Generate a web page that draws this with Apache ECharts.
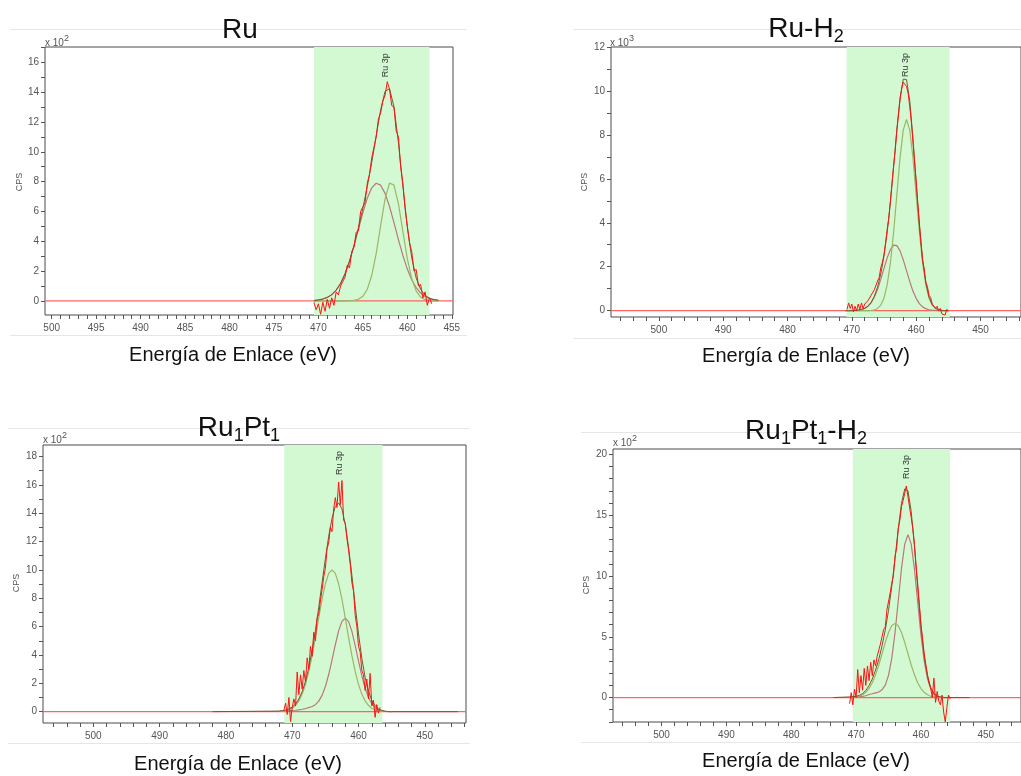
<!DOCTYPE html>
<html>
<head>
<meta charset="utf-8">
<script src="https://cdn.jsdelivr.net/npm/echarts@6/dist/echarts.min.js"></script>
<style>
  html, body { margin: 0; padding: 0; background: #fff; }
  #chart { width: 1021px; height: 776px; }
</style>
</head>
<body>
<div id="chart"></div>
<script>
// ---- spectra (binding energy in eV, counts in the panel's x10^n unit) ----
// raw spectra are sampled every rawStep eV starting at *RawStart, going down
const rawStep = 0.25;
const fitStep = 0.5;

// Ru  (x10^2)
const ruRawStart = 470.5;
const ruRaw = [-0.1,-0.6,-0.2,-0.9, -0.1,-0.7,0.1,-0.5, 0.2,-0.3,0.6,0.4, 1.0,1.3,1.6,2.4,
  2.2,3.3,3.6,4.6, 4.7,6.0,6.3,6.6, 7.9,8.5,9.6,10.3, 11.0,12.2,12.6,13.4, 13.8,14.7,14.2,13.1,
  13.0,11.4,11.0,9.0, 7.9,6.2,5.0,3.9, 3.3,2.0,2.1,1.0, 1.1,0.2,0.6,-0.3, 0.2,-0.2];
const ruFitStart = 470.5;
const ruCompA = [0.03,0.06,0.12,0.23,0.41,0.72,1.17,1.82,2.66,3.67,4.79,5.91,6.89,7.58,7.89,
  7.76,7.21,6.33,5.25,4.11,3.05,2.13,1.41,0.88,0.52,0.29,0.15,0.08,0.04];
const ruCompB = [0,0,0,0,0,0,0,0,0.01,0.03,0.10,0.30,0.78,1.70,3.17,5.05,6.84,7.90,7.77,6.52,
  4.66,2.84,1.48,0.65,0.25,0.08,0.02,0,0];
const ruEnv = [0.03,0.06,0.12,0.23,0.41,0.72,1.17,1.82,2.67,3.70,4.89,6.21,7.67,9.28,11.06,
  12.81,14.05,14.23,13.02,10.63,7.71,4.97,2.89,1.53,0.77,0.37,0.17,0.08,0.04];
const ruEnvEnds = [470.5, 456.5];

// Ru-H2  (x10^3)
const ruh2RawStart = 470.75;
const ruh2Raw = [0.05,0.35,0.1,0.3, -0.05,0.2,0.0,0.3, 0.05,0.35,0.1,0.3, 0.25,0.45,0.5,0.7,
  0.65,0.95,1.0,1.35, 1.5,1.95,2.2,2.55, 3.1,3.7,4.2,5.0, 5.8,6.6,7.3,8.2, 8.9,9.6,10.1,10.4,
  10.3,10.2,9.9,9.3, 8.6,7.7,6.8,5.9, 4.9,4.0,3.1,2.3, 1.9,1.3,1.1,0.7, 0.6,0.3,0.35,0.1,
  0.2,0.0,0.1,-0.15, -0.1,-0.2,0.05,0.0];
const ruh2FitStart = 471;
const ruh2CompA = [0,0,0,0.01,0.02,0.05,0.10,0.20,0.36,0.62,0.97,1.42,1.92,2.40,2.78,2.98,2.96,
  2.72,2.31,1.82,1.33,0.89,0.56,0.32,0.17,0.09,0.04,0.02,0.01,0,0,0,0];
const ruh2CompB = [0,0,0,0,0,0,0,0,0.01,0.03,0.10,0.25,0.57,1.18,2.17,3.58,5.28,6.97,8.23,8.70,
  8.23,6.97,5.28,3.58,2.17,1.18,0.57,0.25,0.10,0.03,0.01,0,0];
const ruh2Env = [0,0,0,0.01,0.02,0.05,0.10,0.20,0.37,0.65,1.07,1.67,2.49,3.58,4.95,6.56,8.24,
  9.69,10.54,10.52,9.56,7.86,5.84,3.90,2.34,1.27,0.61,0.27,0.11,0.03,0.01,0,0];
const ruh2EnvEnds = [471, 455];

// Ru1Pt1  (x10^2)
const ruptRawStart = 471.25;
const ruptRaw = [0.1,0.6,-0.2,1.0, -0.7,0.3,0.9,0.4, 2.8,1.2,2.6,1.6, 2.9,2.1,3.8,3.0,
  4.6,3.9,5.6,5.0, 6.6,6.9,7.8,8.6, 9.5,10.1,11.5,11.9, 13.0,12.7,14.3,15.1, 14.4,16.2,14.6,16.3,
  13.5,13.3,12.2,11.4, 10.4,9.1,8.5,6.8, 6.0,4.6,4.2,2.9, 2.6,1.5,2.3,0.9, 2.7,0.4,0.8,-0.4,
  0.5,-0.1,0.3];
const ruptFitStart = 472;
const ruptCompA = [0.03,0.04,0.05,0.07,0.08,0.10,0.13,0.17,0.22,0.28,0.36,0.49,0.74,1.15,1.77,
  2.62,3.64,4.72,5.70,6.37,6.60,6.35,5.66,4.66,3.56,2.52,1.65,1.00,0.56,0.29,0.14,0.06,0.02,0.01,0];
const ruptCompB = [0.01,0.03,0.06,0.13,0.24,0.44,0.76,1.24,1.92,2.82,3.95,5.24,6.62,7.93,9.02,
  9.75,10.0,9.75,9.02,7.93,6.62,5.24,3.95,2.82,1.92,1.24,0.76,0.44,0.24,0.13,0.06,0.03,0.01,0,0];
const ruptEnv = [0.04,0.07,0.11,0.20,0.32,0.54,0.89,1.41,2.14,3.10,4.31,5.73,7.36,9.08,10.79,
  12.37,13.64,14.47,14.72,14.30,13.22,11.59,9.61,7.48,5.48,3.76,2.41,1.44,0.80,0.42,0.20,0.09,
  0.03,0.01,0];
const ruptEnvEnds = [482, 445];

// Ru1Pt1-H2  (x10^2)
const rupth2RawStart = 471;
const rupth2Raw = [-0.5,0.4,-0.6,0.7, 0.0,2.3,0.4,1.8, 0.6,2.4,1.0,2.6, 1.4,2.9,1.8,3.1,
  2.6,3.4,3.4,4.4, 4.3,5.6,5.8,7.2, 7.1,8.6,9.4,10.0, 11.6,12.3,13.9,14.6, 15.7,16.2,16.8,17.4,
  16.5,16.6,14.8,13.9, 12.6,10.8,9.3,7.7, 6.0,4.8,3.6,2.7, 1.9,1.2,0.8,0.0, 1.6,-0.4,0.5,-0.3,
  -0.6,0.2,-1.2,-2.0, -0.8,0.2,-0.1];
const rupth2FitStart = 471;
const rupth2CompA = [0.04,0.05,0.05,0.07,0.10,0.15,0.25,0.31,0.39,0.46,0.65,1.02,1.82,3.22,5.32,
  7.94,10.61,12.62,13.40,12.62,10.56,7.84,5.17,3.02,1.57,0.72,0.30,0.11,0.04,0.01,0];
const rupth2CompB = [0.01,0.02,0.05,0.11,0.23,0.43,0.74,1.22,1.87,2.68,3.60,4.54,5.35,5.90,6.10,
  5.90,5.35,4.54,3.60,2.68,1.87,1.22,0.74,0.43,0.23,0.11,0.05,0.02,0.01,0,0];
const rupth2Env = [0.05,0.07,0.10,0.18,0.33,0.58,0.99,1.53,2.26,3.14,4.25,5.56,7.17,9.12,11.42,
  13.84,15.96,17.16,17.00,15.30,12.43,9.06,5.91,3.45,1.80,0.83,0.35,0.13,0.05,0.01,0];
const rupth2EnvEnds = [473.5, 452.5];

// ---- labels, regions, axis ticks ----
const panelTitles = ['{m|Ru}', '{m|Ru-H}{s|2}', '{m|Ru}{s|1}{m|Pt}{s|1}', '{m|Ru}{s|1}{m|Pt}{s|1}{m|-H}{s|2}'];
const panelExp = ['2', '3', '2', '2'];
const regionFrom = [470.5, 470.8, 471.2, 470.5];
const regionTo = [457.5, 454.8, 456.4, 455.5];
const peakLabelX = [462.4, 461.7, 462.9, 462.15];
const peakLabelY = [15.8, 11.18, 17.54, 18.96];
const xLabelsRu = [455, 460, 465, 470, 475, 480, 485, 490, 495, 500];
const xLabelsWide = [450, 460, 470, 480, 490, 500];
const yLabels = [
  [0, 2, 4, 6, 8, 10, 12, 14, 16],
  [0, 2, 4, 6, 8, 10, 12],
  [0, 2, 4, 6, 8, 10, 12, 14, 16, 18],
  [0, 5, 10, 15, 20]
];

const FONT = '"Liberation Sans", Arial, sans-serif';
const C_RED = '#ff1212';
const C_BASE = '#ff6464';
const C_ENV = '#6f5b2e';
const C_BROWN = '#b9787a';
const C_OLIVE = '#9db567';
const C_BAND = '#d3f9d3';

// layout of the four plot frames
const grids = [
  { left: 45, top: 47, width: 408, height: 268 },
  { left: 611, top: 47, width: 411, height: 270 },
  { left: 43, top: 445, width: 423, height: 278 },
  { left: 613, top: 449, width: 409, height: 273 }
];
const xMin = [454.86, 443.7, 443.79, 444.57];
const xMax = [500.75, 507.44, 507.59, 507.49];
const yMin = [-0.95, -0.29, -0.80, -2.01];
const yMax = [17.03, 12.0, 18.81, 20.44];

function steps(a, b, st) {
  const out = [];
  for (let v = a; v <= b + 1e-9; v += st) out.push(+v.toFixed(3));
  return out;
}
function sampled(start, step, ys) {
  return ys.map((y, i) => [+(start - i * step).toFixed(3), y]);
}

const panels = [
  { raw: sampled(ruRawStart, rawStep, ruRaw), a: sampled(ruFitStart, fitStep, ruCompA),
    b: sampled(ruFitStart, fitStep, ruCompB), env: sampled(ruFitStart, fitStep, ruEnv), ends: ruEnvEnds },
  { raw: sampled(ruh2RawStart, rawStep, ruh2Raw), a: sampled(ruh2FitStart, fitStep, ruh2CompA),
    b: sampled(ruh2FitStart, fitStep, ruh2CompB), env: sampled(ruh2FitStart, fitStep, ruh2Env), ends: ruh2EnvEnds },
  { raw: sampled(ruptRawStart, rawStep, ruptRaw), a: sampled(ruptFitStart, fitStep, ruptCompA),
    b: sampled(ruptFitStart, fitStep, ruptCompB), env: sampled(ruptFitStart, fitStep, ruptEnv), ends: ruptEnvEnds },
  { raw: sampled(rupth2RawStart, rawStep, rupth2Raw), a: sampled(rupth2FitStart, fitStep, rupth2CompA),
    b: sampled(rupth2FitStart, fitStep, rupth2CompB), env: sampled(rupth2FitStart, fitStep, rupth2Env), ends: rupth2EnvEnds }
];

const xAxes = [], yAxes = [], series = [];
panels.forEach(function (p, i) {
  const xTicks = i === 0 ? steps(455, 500, 1) : steps(444, 506, 2).filter(v => v >= xMin[i] && v <= xMax[i]);
  const yTicks = steps(Math.ceil(yMin[i]), Math.floor(yMax[i]), 1);
  xAxes.push({
    type: 'value', gridIndex: i, min: xMin[i], max: xMax[i], inverse: true, position: 'bottom',
    axisLine: { show: false, onZero: false }, splitLine: { show: false },
    axisTick: { show: true, length: 4, customValues: xTicks, lineStyle: { color: '#555' } },
    axisLabel: { customValues: i === 0 ? xLabelsRu : xLabelsWide, color: '#555', fontSize: 10,
      fontFamily: FONT, margin: 8 }
  });
  yAxes.push({
    type: 'value', gridIndex: i, min: yMin[i], max: yMax[i], position: 'left',
    axisLine: { show: false, onZero: false }, splitLine: { show: false },
    axisTick: { show: true, length: 4, customValues: yTicks, lineStyle: { color: '#555' } },
    axisLabel: { customValues: yLabels[i], color: '#555', fontSize: 10, fontFamily: FONT, margin: 6 }
  });
  const common = { type: 'line', xAxisIndex: i, yAxisIndex: i, symbol: 'none', animation: false, silent: true };
  series.push(Object.assign({}, common, {
    z: 1, data: [[xMax[i], 0], [xMin[i], 0]], lineStyle: { opacity: 0 },
    markArea: { silent: true, itemStyle: { color: C_BAND, opacity: 1 },
      data: [[{ xAxis: regionFrom[i] }, { xAxis: regionTo[i] }]] }
  }));
  series.push(Object.assign({}, common, {
    z: 2, data: [[xMax[i], 0], [xMin[i], 0]], lineStyle: { color: C_BASE, width: 1.3 }
  }));
  series.push(Object.assign({}, common, { z: 3, data: p.a, lineStyle: { color: C_BROWN, width: 1.2 } }));
  series.push(Object.assign({}, common, { z: 3, data: p.b, lineStyle: { color: C_OLIVE, width: 1.2 } }));
  series.push(Object.assign({}, common, {
    z: 4, data: [[p.ends[0], 0]].concat(p.env, [[p.ends[1], 0]]), lineStyle: { color: C_ENV, width: 1 }
  }));
  series.push(Object.assign({}, common, { z: 5, data: p.raw, lineStyle: { color: C_RED, width: 1 } }));
});

const chart = echarts.init(document.getElementById('chart'), null, { renderer: 'canvas' });
chart.setOption({
  animation: false,
  backgroundColor: '#fff',
  grid: grids.map(g => Object.assign({ show: true, borderColor: '#4a4a4a', borderWidth: 1,
    backgroundColor: 'transparent' }, g)),
  xAxis: xAxes,
  yAxis: yAxes,
  series: series
});

// decorations: titles, axis names, exponent marks, peak labels, faint panel frames
const titlePos = [[240, 30], [806, 29], [239, 428], [806, 431]];
const axisTitlePos = [[233, 355], [806, 356], [238, 764], [806, 761]];
const cpsPos = [[20, 182], [585, 182], [17, 583], [587, 585]];
const expPos = [[45, 43], [610, 43], [43, 440], [613, 443]];
const frameLines = [[10, 467, 29, 335], [573, 1021, 29, 338], [8, 470, 428, 743], [581, 1021, 432, 742]];

const graphic = [];
frameLines.forEach(function (f) {
  [f[2], f[3]].forEach(function (y) {
    graphic.push({ type: 'line', silent: true, z: 0,
      shape: { x1: f[0], y1: y + 0.5, x2: f[1], y2: y + 0.5 }, style: { stroke: '#e6e6e6', lineWidth: 1 } });
  });
});
panelTitles.forEach(function (t, i) {
  graphic.push({ type: 'text', x: titlePos[i][0], y: titlePos[i][1], z: 10,
    style: { text: t, align: 'center', verticalAlign: 'middle', textAlign: 'center', textVerticalAlign: 'middle',
      rich: {
        m: { fontSize: 28, lineHeight: 34, fontFamily: FONT, fill: '#111' },
        s: { fontSize: 18, lineHeight: 12, verticalAlign: 'bottom', fontFamily: FONT, fill: '#111' }
      } } });
  graphic.push({ type: 'text', x: axisTitlePos[i][0], y: axisTitlePos[i][1], z: 10,
    style: { text: 'Energía de Enlace (eV)', fontSize: 20, fontFamily: FONT, fill: '#111',
      align: 'center', verticalAlign: 'middle', textAlign: 'center', textVerticalAlign: 'middle' } });
  graphic.push({ type: 'text', x: cpsPos[i][0], y: cpsPos[i][1], rotation: Math.PI / 2, z: 10,
    style: { text: 'CPS', fontSize: 9, fontFamily: FONT, fill: '#555',
      align: 'center', verticalAlign: 'middle', textAlign: 'center', textVerticalAlign: 'middle' } });
  graphic.push({ type: 'text', x: expPos[i][0], y: expPos[i][1], z: 10,
    style: { text: '{m|x 10}{p|' + panelExp[i] + '}', align: 'left', verticalAlign: 'middle',
      textAlign: 'left', textVerticalAlign: 'middle',
      rich: {
        m: { fontSize: 10, lineHeight: 18, fontFamily: FONT, fill: '#555' },
        p: { fontSize: 9, lineHeight: 8, verticalAlign: 'top', fontFamily: FONT, fill: '#555' }
      } } });
  const pt = chart.convertToPixel({ gridIndex: i }, [peakLabelX[i], peakLabelY[i]]);
  graphic.push({ type: 'text', x: pt[0], y: pt[1], rotation: Math.PI / 2, z: 10,
    style: { text: 'Ru 3p', fontSize: 9, fontFamily: FONT, fill: '#333',
      align: 'center', verticalAlign: 'middle', textAlign: 'center', textVerticalAlign: 'middle' } });
});
chart.setOption({ graphic: graphic });
</script>
</body>
</html>
